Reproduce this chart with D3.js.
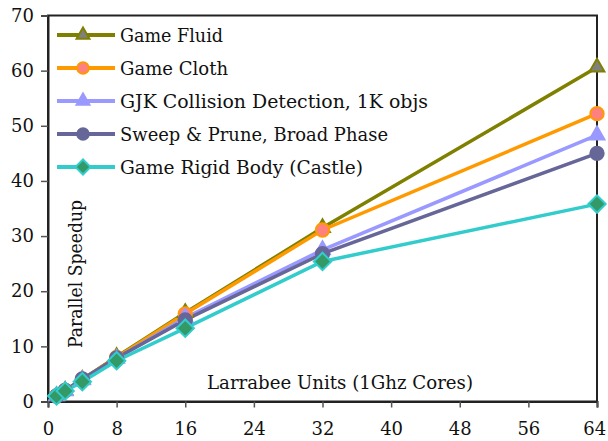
<!DOCTYPE html>
<html>
<head>
<meta charset="utf-8">
<script src="https://cdn.jsdelivr.net/npm/d3@7"></script>
<style>
  body { margin: 0; background: #fff; }
</style>
</head>
<body>
<div id="chart"></div>
<script>
// data
var cores = [1, 2, 4, 8, 16, 32, 64];
var seriesNames = ["Game Fluid", "Game Cloth", "GJK Collision Detection, 1K objs",
  "Sweep & Prune, Broad Phase", "Game Rigid Body  (Castle)"];
var fluid = [1, 2, 4, 8.1, 16.1, 31.5, 60.6];
var cloth = [1, 2, 4, 8, 15.9, 31.1, 52.2];
var gjk = [1, 1.9, 3.9, 7.8, 15.2, 27.5, 48.3];
var sweep = [1, 2, 4.1, 7.9, 14.8, 26.8, 45];
var rigid = [1, 1.9, 3.6, 7.4, 13.3, 25.4, 35.8];
var xTicks = [0, 8, 16, 24, 32, 40, 48, 56, 64];
var yTicks = [0, 10, 20, 30, 40, 50, 60, 70];

var serif = "DejaVu Serif";

var svgWidth = 608;
var svgHeight = 441;

var svg = d3.select("#chart")
  .append("svg")
  .attr("width", svgWidth)
  .attr("height", svgHeight);

var x = d3.scaleLinear().domain([0, 64]).range([48, 597]);
var y = d3.scaleLinear().domain([0, 70]).range([401.5, 15.5]);

// styles per series
var styles = [
  { values: fluid, line: "#808000", fill: "#808080", stroke: "#808000", shape: "tri" },
  { values: cloth, line: "#FF9900", fill: "#FF8080", stroke: "#FF9900", shape: "circle" },
  { values: gjk, line: "#9999FF", fill: "#9999FF", stroke: "#9999FF", shape: "tri" },
  { values: sweep, line: "#666699", fill: "#666699", stroke: "#666699", shape: "circle" },
  { values: rigid, line: "#33CCCC", fill: "#339966", stroke: "#33CCCC", shape: "diamond" }
];

function markerPath(shape, scale) {
  if (shape == "tri") return d3.symbol().type(d3.symbolTriangle).size(95 * scale)();
  if (shape == "circle") return d3.symbol().type(d3.symbolCircle).size(140 * scale)();
  return d3.symbol().type(d3.symbolSquare).size(150 * scale)();
}

// frame
svg.append("rect")
  .attr("x", 48).attr("y", 15.5)
  .attr("width", 597 - 48).attr("height", 401.5 - 15.5)
  .attr("fill", "none")
  .attr("stroke", "#222")
  .attr("stroke-width", 2);

// axes
var leftAxis = d3.axisLeft(y).tickValues(yTicks).tickSize(7).tickPadding(7);
var bottomAxis = d3.axisBottom(x).tickValues(xTicks).tickSize(6).tickPadding(15);

var gy = svg.append("g").attr("transform", "translate(48,0)").call(leftAxis);
var gx = svg.append("g").attr("transform", "translate(0,401.5)").call(bottomAxis);

[gx, gy].forEach(function(g) {
  g.attr("font-family", serif).attr("font-size", 18);
  g.select(".domain").attr("stroke", "#222").attr("stroke-width", 2);
  g.selectAll(".tick line").attr("stroke", "#555").attr("stroke-width", 1.5);
  g.selectAll(".tick text").attr("fill", "#111");
});
// keep the last x label inside the picture
gx.selectAll(".tick text").filter(function(d) { return d == 64; }).attr("dx", "-0.15em");

// series lines and markers
var line = d3.line()
  .x(function(d, i) { return x(cores[i]); })
  .y(function(d) { return y(d); });

styles.forEach(function(s) {
  svg.append("path")
    .datum(s.values)
    .attr("d", line)
    .attr("fill", "none")
    .attr("stroke", s.line)
    .attr("stroke-width", 3.5);
});

styles.forEach(function(s) {
  svg.selectAll(null)
    .data(s.values)
    .enter()
    .append("path")
    .attr("d", markerPath(s.shape, 1))
    .attr("transform", function(d, i) {
      var t = "translate(" + x(cores[i]) + "," + y(d) + ")";
      return s.shape == "diamond" ? t + " rotate(45)" : t;
    })
    .attr("fill", s.fill)
    .attr("stroke", s.stroke)
    .attr("stroke-width", 2);
});

// legend
var legendWidths = [103, 108, 308, 268, 243];
var legend = svg.append("g").attr("font-family", serif);
styles.forEach(function(s, i) {
  var ly = 35 + i * 33;
  legend.append("line")
    .attr("x1", 57).attr("x2", 115)
    .attr("y1", ly).attr("y2", ly)
    .attr("stroke", s.line)
    .attr("stroke-width", 4);
  legend.append("path")
    .attr("d", markerPath(s.shape, 0.75))
    .attr("transform", "translate(83," + ly + ")" + (s.shape == "diamond" ? " rotate(45)" : ""))
    .attr("fill", s.fill)
    .attr("stroke", s.stroke)
    .attr("stroke-width", 2);
  legend.append("text")
    .attr("x", 120)
    .attr("y", ly + 7)
    .attr("font-size", "19px")
    .attr("fill", "#111")
    .attr("textLength", legendWidths[i])
    .attr("lengthAdjust", "spacingAndGlyphs")
    .text(seriesNames[i]);
});

// axis titles, inside the plot
svg.append("text")
  .attr("x", 207)
  .attr("y", 389)
  .attr("font-family", serif)
  .attr("font-size", "19px")
  .attr("fill", "#111")
  .attr("textLength", 266)
  .attr("lengthAdjust", "spacingAndGlyphs")
  .text("Larrabee Units (1Ghz Cores)");

svg.append("text")
  .attr("transform", "translate(82,348) rotate(-90)")
  .attr("font-family", serif)
  .attr("font-size", "19px")
  .attr("fill", "#111")
  .attr("textLength", 148)
  .attr("lengthAdjust", "spacingAndGlyphs")
  .text("Parallel Speedup");
</script>
</body>
</html>
